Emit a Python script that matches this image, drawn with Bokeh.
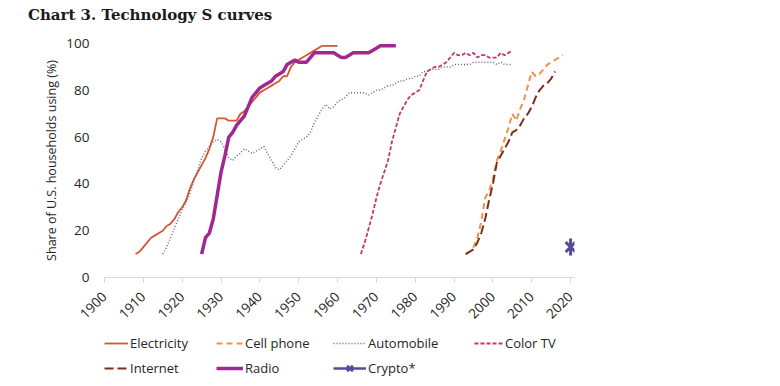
import math
from bokeh.plotting import figure
from bokeh.layouts import column
from bokeh.models import Range1d, FixedTicker, Legend, LegendItem, ColumnDataSource, Div
from bokeh.embed import file_html
from bokeh.resources import INLINE

# ---------------- data ----------------
elec_years = list(range(1908, 1961))
elec_vals = [10, 11, 13, 15, 17, 18, 19, 20, 22, 23,
             25, 28, 30, 33, 38, 42, 45, 48, 51, 55,
             60, 68, 68, 68, 67, 67, 67, 70, 71, 73,
             75, 77, 79, 80, 81, 82, 83, 84, 86, 86,
             90, 92, 93, 94, 95, 96, 97, 98, 99, 99,
             99, 99, 99]

cell_years = list(range(1993, 2019))
cell_vals = [10, 11, 13, 17, 24, 34, 37, 42, 50, 54,
             59, 64, 70, 67, 72, 76, 82, 88, 86, 87,
             89, 91, 92, 93, 94, 95]

auto_years = list(range(1915, 2006))
auto_vals = [10, 13, 17, 21, 25, 29, 32, 36, 41, 46,
             51, 54, 56, 58, 59, 58, 55, 51, 50, 52,
             53, 55, 54, 53, 54, 55, 56, 53, 50, 47,
             46, 48, 50, 52, 55, 58, 59, 60, 62, 66,
             69, 72, 74, 72, 73, 75, 76, 77, 79, 79,
             79, 79, 79, 78, 79, 80, 80, 81, 82, 82,
             83, 84, 84, 85, 85, 86, 86, 88, 88, 89,
             89, 89, 90, 90, 90, 91, 91, 91, 91, 91,
             92, 92, 92, 92, 92, 92, 91, 92, 91, 91,
             91]

ctv_years = list(range(1966, 2006))
ctv_vals = [10, 15, 21, 27, 34, 40, 45, 50, 58, 64,
            70, 73, 76, 78, 79, 80, 84, 88, 89, 90,
            90, 91, 92, 94, 96, 95, 95, 96, 95, 96,
            94, 95, 95, 94, 94, 94, 96, 95, 96, 97]

inet_years = list(range(1993, 2017))
inet_vals = [10, 11, 12, 15, 19, 25, 33, 40, 49, 52,
             55, 58, 62, 63, 65, 68, 70, 73, 77, 80,
             82, 83, 85, 88]

radio_years = list(range(1925, 1976))
radio_vals = [10, 17, 19, 25, 35, 45, 52, 60, 62, 65,
              67, 69, 73, 77, 79, 81, 82, 83, 84, 86,
              87, 88, 91, 92, 93, 92, 92, 92, 94, 96,
              96, 96, 96, 96, 96, 95, 94, 94, 95, 96,
              96, 96, 96, 96, 97, 98, 99, 99, 99, 99,
              99]

crypto_years = [2020]
crypto_vals = [13]

x_ticks = [1900, 1910, 1920, 1930, 1940, 1950, 1960, 1970, 1980, 1990, 2000, 2010, 2020]
y_ticks = [0, 20, 40, 60, 80, 100]

title_text = "Chart 3. Technology S curves"
y_title = "Share of U.S. households using (%)"

# ---------------- styles ----------------
C_ELEC = "#D5562F"
C_CELL = "#F0924A"
C_AUTO = "#5E63A6"
C_CTV = "#C23A63"
C_INET = "#7A2E1E"
C_RADIO = "#A0288F"
C_CRYPTO = "#58489E"
FONT = "Open Sans"
TXT = "#262626"

STY = {
    "elec": dict(line_color=C_ELEC, line_width=1.8),
    "auto": dict(line_color=C_AUTO, line_width=1.5, line_dash="1 2"),
    "ctv": dict(line_color=C_CTV, line_width=1.8, line_dash="4 2"),
    "cell": dict(line_color=C_CELL, line_width=2, line_dash="6 4"),
    "inet": dict(line_color=C_INET, line_width=2, line_dash="9 4"),
    "radio": dict(line_color=C_RADIO, line_width=3.5),
    "crypto": dict(line_color=C_CRYPTO, line_width=2.5),
}

# ---------------- title ----------------
title_div = Div(text=title_text, width=760, height=30, margin=0,
                styles={"font-family": "DejaVu Serif", "font-weight": "bold",
                        "font-size": "15px", "color": "#1a1a1a",
                        "line-height": "30px", "text-indent": "28px"})

# ---------------- main plot ----------------
p = figure(frame_width=470, frame_height=234, output_backend="svg", toolbar_location=None,
           title=None, x_range=Range1d(1900, 2021), y_range=Range1d(0, 100),
           min_border_left=104, min_border_right=186, min_border_top=13, min_border_bottom=55)
p.outline_line_color = None
p.grid.visible = False
p.background_fill_color = "white"
p.border_fill_color = "white"

xa = p.xaxis[0]
xa.ticker = FixedTicker(ticks=x_ticks)
xa.axis_line_color = "#d9d9d9"
xa.major_tick_line_color = "#d9d9d9"
xa.major_tick_out = 5
xa.major_tick_in = 0
xa.minor_tick_line_color = None
xa.major_label_orientation = math.pi / 4
xa.major_label_text_font = FONT
xa.major_label_text_font_size = "13.5px"
xa.major_label_text_color = TXT
xa.major_label_standoff = 12

ya = p.yaxis[0]
ya.ticker = FixedTicker(ticks=y_ticks)
ya.axis_line_color = None
ya.major_tick_line_color = None
ya.minor_tick_line_color = None
ya.major_tick_out = 0
ya.major_tick_in = 0
ya.major_label_standoff = 15
ya.major_label_text_font = FONT
ya.major_label_text_font_size = "13.5px"
ya.major_label_text_color = TXT
ya.axis_label = y_title
ya.axis_label_text_font = FONT
ya.axis_label_text_font_size = "12.5px"
ya.axis_label_text_font_style = "normal"
ya.axis_label_text_color = TXT
ya.axis_label_standoff = 3

p.line(elec_years, elec_vals, **STY["elec"])
p.line(auto_years, auto_vals, **STY["auto"])
p.line(ctv_years, ctv_vals, **STY["ctv"])
p.line(cell_years, cell_vals, **STY["cell"])
p.line(inet_years, inet_vals, **STY["inet"])
p.line(radio_years, radio_vals, **STY["radio"])

csrc = ColumnDataSource(dict(x=crypto_years, y=crypto_vals))
p.scatter("x", "y", source=csrc, marker="x", size=14, line_color=C_CRYPTO, line_width=3)
p.scatter("x", "y", source=csrc, marker="dash", angle=math.pi / 2, size=17,
          line_color=C_CRYPTO, line_width=3)

# ---------------- legend strip ----------------
lf = figure(width=760, height=54, output_backend="svg", toolbar_location=None,
            x_range=Range1d(0, 1), y_range=Range1d(0, 1),
            min_border=0, x_axis_location=None, y_axis_location=None)
lf.outline_line_color = None
lf.grid.visible = False
lf.border_fill_color = "white"

# legend-key renderers: a single point outside the strip's range, so only the key shows
key = ColumnDataSource(dict(x=[-10], y=[-10]))
g_elec = lf.line("x", "y", source=key, **STY["elec"])
g_auto = lf.line("x", "y", source=key, **STY["auto"])
g_ctv = lf.line("x", "y", source=key, **STY["ctv"])
g_cell = lf.line("x", "y", source=key, **STY["cell"])
g_inet = lf.line("x", "y", source=key, **STY["inet"])
g_radio = lf.line("x", "y", source=key, **STY["radio"])
g_cr_l = lf.line("x", "y", source=key, **STY["crypto"])
g_cr_x = lf.scatter("x", "y", source=key, marker="x", size=10, line_color=C_CRYPTO, line_width=2.5)
g_cr_d = lf.scatter("x", "y", source=key, marker="dash", angle=math.pi / 2, size=11,
                    line_color=C_CRYPTO, line_width=2.5)


def add_legend(items, loc, gw=31):
    lg = Legend(items=items, location=loc, orientation="vertical",
                glyph_width=gw, glyph_height=20, label_standoff=2, label_height=16,
                spacing=5, padding=0, margin=0, border_line_color=None,
                background_fill_alpha=0,
                label_text_font=FONT, label_text_font_size="13px", label_text_color=TXT)
    lf.add_layout(lg, "center")


add_legend([LegendItem(label="Electricity", renderers=[g_elec]),
            LegendItem(label="Internet", renderers=[g_inet])], (0, 8), gw=24)
add_legend([LegendItem(label="Cell phone", renderers=[g_cell]),
            LegendItem(label="Radio", renderers=[g_radio])], (112, 8), gw=27)
add_legend([LegendItem(label="Automobile", renderers=[g_auto]),
            LegendItem(label="Crypto*", renderers=[g_cr_l, g_cr_x, g_cr_d])], (229, 8), gw=33)
add_legend([LegendItem(label="Color TV", renderers=[g_ctv])], (370, 33), gw=29)

open("out.html", "w").write(file_html(column(title_div, p, lf, spacing=0), INLINE))
